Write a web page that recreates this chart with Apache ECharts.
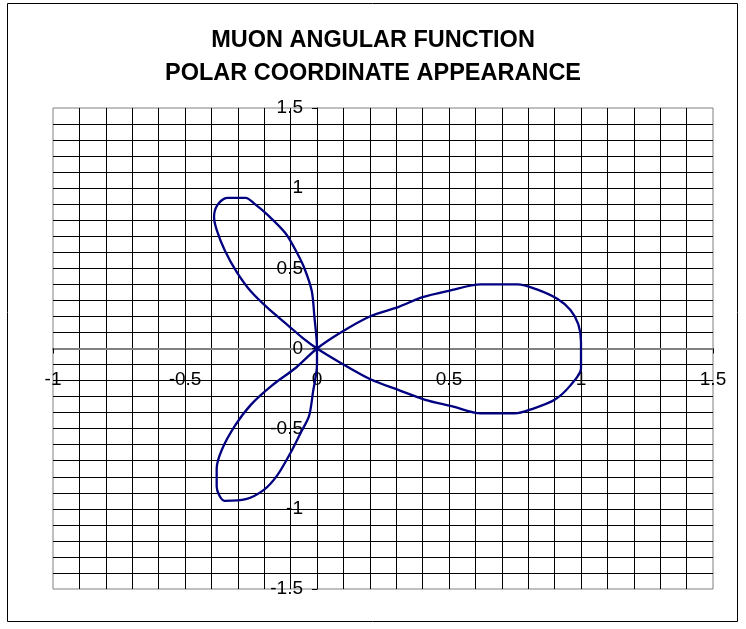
<!DOCTYPE html>
<html>
<head>
<meta charset="utf-8">
<title>Muon angular function</title>
<script src="https://cdn.jsdelivr.net/npm/echarts@6/dist/echarts.min.js"></script>
<style>
  html, body { margin: 0; padding: 0; background: #fff; }
  #chart { width: 746px; height: 629px; }
</style>
</head>
<body>
<div id="chart"></div>
<script>
// Title lines
var titleLines = ['MUON ANGULAR FUNCTION', 'POLAR COORDINATE APPEARANCE'];

// Axis ranges and label steps
var xRange = [-1, 1.5];
var yRange = [-1.5, 1.5];
var labelStep = 0.5;
var gridStep = 0.1;

// Trace of the curve, lobe by lobe, in drawing order.
// Right lobe, upper half: from the tip (1, 0) back to the origin
var rightUpperX = [1.00, 1.00, 0.99, 0.96, 0.91, 0.83, 0.76, 0.70, 0.62, 0.50, 0.40, 0.31, 0.20, 0.09, 0.00];
var rightUpperY = [0.00, 0.04, 0.15, 0.24, 0.31, 0.37, 0.40, 0.40, 0.40, 0.36, 0.32, 0.26, 0.20, 0.10, 0.00];

// Lower-left lobe: out along its left edge, back along its right edge
var lowerLobeX = [-0.08, -0.17, -0.25, -0.31, -0.36, -0.38, -0.38, -0.35, -0.27, -0.20, -0.15, -0.10, -0.06, -0.03, -0.015, 0.00, 0.00];
var lowerLobeY = [-0.12, -0.23, -0.35, -0.48, -0.63, -0.75, -0.86, -0.95, -0.94, -0.88, -0.79, -0.65, -0.52, -0.42, -0.27, -0.10, 0.00];

// Upper-left lobe: out along its right edge, back along its left edge
var upperLobeX = [-0.01, -0.02, -0.05, -0.08, -0.12, -0.185, -0.235, -0.27, -0.34, -0.375, -0.39, -0.38, -0.35, -0.305, -0.25, -0.185, -0.11, -0.05, 0.00];
var upperLobeY = [0.20, 0.36, 0.51, 0.61, 0.72, 0.83, 0.90, 0.94, 0.94, 0.90, 0.82, 0.74, 0.615, 0.48, 0.355, 0.25, 0.145, 0.06, 0.00];

// Right lobe, lower half: from the origin out to the tip (1, 0)
var rightLowerX = [0.09, 0.20, 0.31, 0.41, 0.51, 0.62, 0.75, 0.81, 0.90, 0.96, 1.00, 1.00, 1.00];
var rightLowerY = [-0.09, -0.19, -0.26, -0.32, -0.36, -0.405, -0.405, -0.38, -0.32, -0.23, -0.125, -0.02, 0.00];

function pairs(xs, ys) {
  var out = [];
  for (var i = 0; i < xs.length; i++) out.push([xs[i], ys[i]]);
  return out;
}

var curve = [].concat(
  pairs(rightUpperX, rightUpperY),
  pairs(lowerLobeX, lowerLobeY),
  pairs(upperLobeX, upperLobeY),
  pairs(rightLowerX, rightLowerY)
);

var FONT = '"Liberation Sans", Arial, sans-serif';

// Plot rectangle inside the 746 x 629 canvas
var W = 746, H = 629;
var gridBox = { left: 53, right: 33, top: 108, bottom: 40 };
var plotW = W - gridBox.left - gridBox.right;
var plotH = H - gridBox.top - gridBox.bottom;
// Shift each axis so that it crosses the other one at zero
var xAxisOffset = -plotH * (0 - yRange[0]) / (yRange[1] - yRange[0]);
var yAxisOffset = -plotW * (0 - xRange[0]) / (xRange[1] - xRange[0]);

function fmt(v) { return String(+v.toFixed(2)); }

var chart = echarts.init(document.getElementById('chart'), null, { renderer: 'canvas' });

chart.setOption({
  animation: false,
  backgroundColor: '#fff',
  graphic: [{
    type: 'rect',
    shape: { x: 7.5, y: 3.5, width: 730, height: 618 },
    style: { fill: 'none', stroke: '#000', lineWidth: 1 },
    silent: true,
    z: 100
  }],
  title: {
    text: titleLines.join('\n'),
    left: 'center',
    top: 24,
    padding: 0,
    textStyle: {
      fontFamily: FONT,
      fontWeight: 'bold',
      fontSize: 23.5,
      lineHeight: 33,
      color: '#000'
    }
  },
  grid: {
    left: gridBox.left,
    right: gridBox.right,
    top: gridBox.top,
    bottom: gridBox.bottom,
    show: true,
    borderColor: '#808080',
    borderWidth: 1,
    backgroundColor: 'transparent'
  },
  xAxis: {
    type: 'value',
    min: xRange[0],
    max: xRange[1],
    interval: labelStep,
    position: 'bottom',
    offset: xAxisOffset,
    axisLine: { show: true, onZero: false, lineStyle: { color: '#808080', width: 2 } },
    axisTick: { show: true, length: 5, lineStyle: { color: '#000', width: 1 } },
    axisLabel: {
      margin: 22,
      fontFamily: FONT,
      fontSize: 19,
      color: '#000',
      formatter: fmt
    },
    splitLine: { show: true, showMinLine: false, showMaxLine: false, lineStyle: { color: '#000', width: 1 } },
    minorTick: { show: false, splitNumber: Math.round(labelStep / gridStep) },
    minorSplitLine: { show: true, lineStyle: { color: '#000', width: 1 } }
  },
  yAxis: {
    type: 'value',
    min: yRange[0],
    max: yRange[1],
    interval: labelStep,
    position: 'left',
    offset: yAxisOffset,
    axisLine: { show: true, onZero: false, lineStyle: { color: '#000', width: 1 } },
    axisTick: { show: true, length: 5, lineStyle: { color: '#000', width: 1 } },
    axisLabel: {
      margin: 14,
      fontFamily: FONT,
      fontSize: 19,
      color: '#000',
      formatter: fmt
    },
    splitLine: { show: true, showMinLine: false, showMaxLine: false, lineStyle: { color: '#000', width: 1 } },
    minorTick: { show: false, splitNumber: Math.round(labelStep / gridStep) },
    minorSplitLine: { show: true, lineStyle: { color: '#000', width: 1 } }
  },
  series: [{
    type: 'line',
    data: curve,
    showSymbol: false,
    smooth: 0.3,
    clip: false,
    lineStyle: { color: '#000080', width: 2.3 },
    z: 10
  }]
});
</script>
</body>
</html>
